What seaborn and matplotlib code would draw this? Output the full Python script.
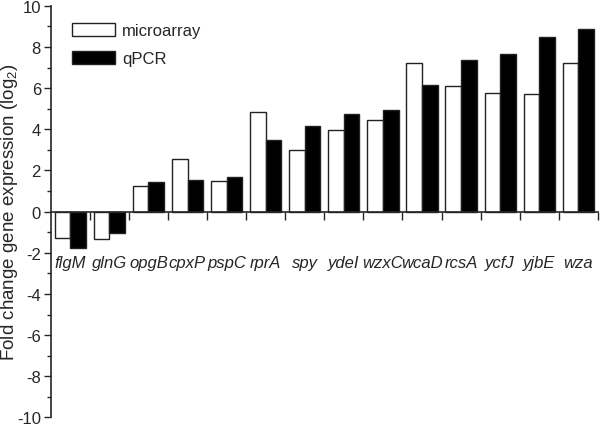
import numpy as np
import pandas as pd
import matplotlib
matplotlib.use('Agg')
import matplotlib.pyplot as plt
import seaborn as sns

genes = ['flgM', 'glnG', 'opgB', 'cpxP', 'pspC', 'rprA', 'spy',
         'ydeI', 'wzxC', 'wcaD', 'rcsA', 'ycfJ', 'yjbE', 'wza']
microarray = [-1.26, -1.35, 1.24, 2.58, 1.48, 4.85, 2.98,
              3.95, 4.44, 7.23, 6.10, 5.78, 5.73, 7.20]
qpcr = [-1.79, -1.02, 1.43, 1.53, 1.68, 3.50, 4.17,
        4.73, 4.94, 6.15, 7.37, 7.66, 8.50, 8.89]
methods = ['microarray', 'qPCR']
yticks = [-10, -8, -6, -4, -2, 0, 2, 4, 6, 8, 10]

df = pd.DataFrame({
    'gene': genes * 2,
    'method': [methods[0]] * len(genes) + [methods[1]] * len(genes),
    'value': microarray + qpcr,
})

sns.set_style('ticks')
plt.rcParams['font.family'] = ['Liberation Sans', 'DejaVu Sans']
plt.rcParams['mathtext.fontset'] = 'custom'
plt.rcParams['mathtext.rm'] = 'Liberation Sans'
plt.rcParams['mathtext.it'] = 'Liberation Sans:italic'

fig = plt.figure(figsize=(6, 4.27), dpi=100)
ax = fig.add_axes([0.0845, 0.02, 0.912, 0.964])

sns.barplot(data=df, x='gene', y='value', hue='method', order=genes,
            hue_order=methods, palette={'microarray': 'white', 'qPCR': 'black'},
            edgecolor='#222222', linewidth=1, width=0.8, gap=0, ax=ax)

ax.set_ylim(-10, 10)
ax.set_xlim(-0.5, len(genes) - 0.5)
ax.set_yticks(yticks)
ax.set_yticklabels([str(t) for t in yticks], fontsize=12)
ax.set_yticks(np.arange(-9, 10, 2), minor=True)
ax.tick_params(axis='y', which='major', length=5, width=1, direction='out', pad=2)
ax.tick_params(axis='y', which='minor', length=3, width=1, direction='out')

# gene names sit below the zero line, tick marks between groups
ax.spines['bottom'].set_position(('data', 0))
ax.spines['top'].set_visible(False)
ax.spines['right'].set_visible(False)
ax.spines['left'].set_linewidth(1.2)
ax.spines['bottom'].set_linewidth(1.2)
ax.set_xticks(range(len(genes)))
ax.set_xticklabels(genes, fontsize=12, style='italic')
ax.set_xticks(np.arange(0.5, len(genes), 1), minor=True)
ax.tick_params(axis='x', which='major', length=0, pad=31)
ax.tick_params(axis='x', which='minor', length=6, width=1, direction='out')

ax.set_xlabel('')
ax.set_ylabel('Fold change gene expression (log$_2$)', fontsize=13.5)
ax.yaxis.set_label_coords(-0.057, 0.5)

leg = ax.legend(loc='upper left', bbox_to_anchor=(0.027, 0.975), frameon=False,
                fontsize=12, handlelength=2.6, handleheight=0.85,
                handletextpad=0.4, labelspacing=0.75, borderaxespad=0)

fig.savefig('out.png', dpi=100)
